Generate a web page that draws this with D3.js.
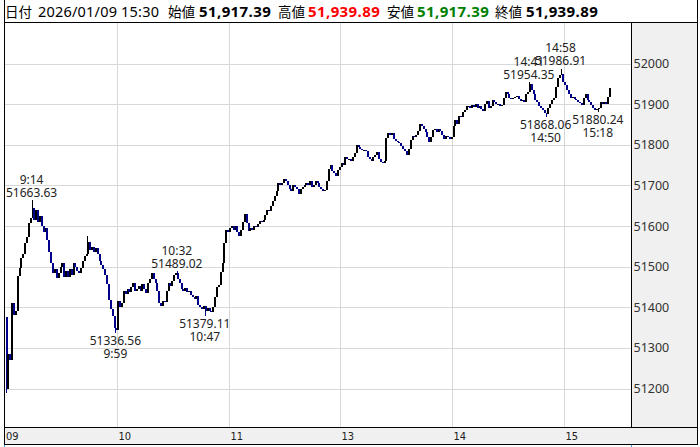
<!DOCTYPE html>
<html><head><meta charset="utf-8">
<script src="https://cdn.jsdelivr.net/npm/d3@7"></script>
<style>
body{margin:0;background:#fff;}
svg{display:block;}
text{font-family:"Noto Sans","Noto Sans CJK JP",sans-serif;}
</style>
</head><body>
<svg id="c" width="700" height="447"></svg>
<script>
// ---- data (1-minute candles, index 0 = 09:00, lunch break removed) ----
const firstOpen = 51375;
const closes = [
51200,51285,51270,51410,51380,51390,51476,51497,51522,51530,
51559,51574,51608,51620,51645,51615,51640,51610,51625,51600,
51585,51595,51566,51535,51510,51485,51495,51473,51485,51500,
51510,51475,51490,51475,51495,51480,51510,51500,51490,51485,
51497,51515,51525,51530,51560,51540,51548,51535,51545,51530,
51515,51505,51495,51480,51458,51418,51395,51378,51350,51345,
51415,51400,51410,51440,51432,51445,51438,51450,51460,51440,
51445,51452,51440,51458,51445,51435,51460,51470,51485,51470,
51460,51440,51410,51404,51415,51412,51439,51460,51452,51465,
51480,51484,51470,51460,51445,51440,51448,51437,51440,51430,
51425,51420,51428,51405,51400,51395,51402,51390,51398,51392,
51388,51400,51425,51450,51455,51488,51510,51558,51590,51585,
51595,51600,51590,51600,51585,51575,51590,51610,51630,51607,
51587,51595,51590,51600,51598,51605,51612,51610,51615,51628,
51640,51638,51650,51662,51675,51685,51705,51700,51705,51715,
51712,51700,51690,51685,51700,51697,51690,51678,51690,51697,
51700,51705,51700,51710,51695,51700,51712,51705,51695,51690,
51685,51689,51710,51740,51750,51735,51730,51722,51738,51745,
51755,51750,51771,51765,51765,51760,51770,51780,51800,51795,
51790,51787,51788,51785,51771,51765,51760,51770,51776,51783,
51765,51758,51755,51760,51816,51828,51825,51830,51815,51810,
51808,51805,51797,51790,51785,51775,51790,51812,51822,51818,
51825,51835,51852,51845,51840,51832,51820,51808,51820,51837,
51838,51832,51840,51835,51825,51815,51822,51818,51815,51820,
51845,51860,51852,51870,51868,51880,51885,51895,51895,51890,
51898,51892,51900,51890,51895,51888,51883,51900,51908,51890,
51895,51910,51905,51900,51900,51895,51898,51915,51930,51925,
51915,51912,51915,51918,51920,51912,51908,51910,51905,51925,
51930,51950,51935,51925,51910,51905,51895,51890,51885,51878,
51875,51890,51900,51910,51915,51942,51965,51972,51975,51955,
51947,51935,51925,51915,51918,51912,51910,51905,51902,51898,
51915,51925,51910,51905,51898,51890,51885,51888,51890,51905,
51900,51905,51900,51917.39,51939.89
];
// extreme wicks
const extremes = [
  {idx:0,   low:51190},
  {idx:14,  high:51663.63},
  {idx:44,  high:51575},
  {idx:59,  low:51336.56},
  {idx:92,  high:51489.02},
  {idx:107, low:51379.11},
  {idx:281, high:51954.35},
  {idx:290, low:51868.06},
  {idx:298, high:51986.91},
  {idx:318, low:51880.24}
];
const annotations = [
  {idx:14,  value:"51663.63", time:"9:14",  kind:"high", price:51663.63},
  {idx:59,  value:"51336.56", time:"9:59",  kind:"low",  price:51336.56},
  {idx:92,  value:"51489.02", time:"10:32", kind:"high", price:51489.02},
  {idx:107, value:"51379.11", time:"10:47", kind:"low",  price:51379.11},
  {idx:281, value:"51954.35", time:"14:41", kind:"high", price:51954.35},
  {idx:290, value:"51868.06", time:"14:50", kind:"low",  price:51868.06},
  {idx:298, value:"51986.91", time:"14:58", kind:"high", price:51986.91},
  {idx:318, value:"51880.24", time:"15:18", kind:"low",  price:51880.24}
];
const hourLabels = ["09","10","11","13","14","15"];
const hourIdx    = [0,60,120,180,240,300];
const priceTicks = [51200,51300,51400,51500,51600,51700,51800,51900,52000];
const headerItems = [
  {t:"日付", kind:"label", color:"#000"},
  {t:"2026/01/09 15:30", kind:"date", color:"#000"},
  {t:"始値", kind:"label", color:"#000"},
  {t:"51,917.39", kind:"value", color:"#000"},
  {t:"高値", kind:"label", color:"#000"},
  {t:"51,939.89", kind:"value", color:"#ff0000"},
  {t:"安値", kind:"label", color:"#000"},
  {t:"51,917.39", kind:"value", color:"#008000"},
  {t:"終値", kind:"label", color:"#000"},
  {t:"51,939.89", kind:"value", color:"#000"}
];

// ---- layout ----
const W = 700, H = 447;
const plot = {l:4.5, t:22.5, r:631.5, b:427.5};
const bandB = 444.5;

const svg = d3.select("#c");
const x = d3.scaleLinear().domain([0, 330]).range([5.5, 5.5 + 330*1.8625]);
const y = d3.scaleLinear().domain([51200, 52000]).range([388.5, 63.5]);

// backgrounds
svg.append("rect").attr("x",0).attr("y",0).attr("width",W).attr("height",H).attr("fill","#fff");
svg.append("rect").attr("x",plot.r).attr("y",plot.t).attr("width",W-plot.r-2).attr("height",bandB-plot.t).attr("fill","#f0f0f0");
svg.append("rect").attr("x",plot.l).attr("y",plot.b).attr("width",W-plot.l-2).attr("height",bandB-plot.b).attr("fill","#f0f0f0");

// grid
const grid = svg.append("g").attr("stroke","#d8d8d8").attr("stroke-width",1).attr("shape-rendering","crispEdges");
priceTicks.forEach(p=>{
  const yy = Math.round(y(p))+0.5;
  grid.append("line").attr("x1",plot.l).attr("x2",plot.r).attr("y1",yy).attr("y2",yy);
});
hourIdx.slice(1).forEach(i=>{
  const xx = Math.round(x(i)-0.5)+0.5;
  grid.append("line").attr("x1",xx).attr("x2",xx).attr("y1",plot.t).attr("y2",plot.b);
});

// candles
const candles = closes.map((c,i)=>{
  const o = i===0 ? firstOpen : closes[i-1];
  const e = extremes.find(d=>d.idx===i) || {};
  return {i, o, c, h: Math.max(o,c,e.high||-Infinity), l: Math.min(o,c,e.low||Infinity)};
});
const col = d=>d.c>=d.o?"#000":"#00008b";
const cg = svg.append("g").attr("shape-rendering","crispEdges");
cg.selectAll("line").data(candles).join("line")
  .attr("x1",d=>Math.round(x(d.i))+0.5).attr("x2",d=>Math.round(x(d.i))+0.5)
  .attr("y1",d=>y(d.h)).attr("y2",d=>y(d.l))
  .attr("stroke",col).attr("stroke-width",1);
cg.selectAll("rect").data(candles).join("rect")
  .attr("x",d=>Math.round(x(d.i))).attr("width",2)
  .attr("y",d=>y(Math.max(d.o,d.c)))
  .attr("height",d=>Math.max(1, Math.abs(y(d.o)-y(d.c))))
  .attr("fill",col);

// annotations
const ag = svg.append("g").attr("font-size",12).attr("fill","#222").attr("text-anchor","middle");
annotations.forEach(a=>{
  const cx = x(a.idx), py = y(a.price);
  if(a.kind==="high"){
    ag.append("text").attr("x",cx).attr("y",py-16.5).text(a.time);
    ag.append("text").attr("x",cx).attr("y",py-3.5).text(a.value);
  } else {
    ag.append("text").attr("x",cx).attr("y",py+12).text(a.value);
    ag.append("text").attr("x",cx).attr("y",py+25).text(a.time);
  }
});

// right price axis
const axR = d3.axisRight(y).tickValues(priceTicks).tickSize(0).tickPadding(2).tickFormat(d3.format("d"));
const gR = svg.append("g").attr("transform",`translate(${plot.r},0)`).call(axR);
gR.select(".domain").remove();
gR.selectAll("text").attr("font-size",12.5).attr("fill","#333")
  .style("font-family","'Noto Sans',sans-serif");

// bottom hour axis
const bx = svg.append("g");
hourIdx.forEach((idx,k)=>{
  const xx = k===0 ? plot.l+1.5 : Math.round(x(idx)-0.5)+1.5;
  bx.append("text").attr("x",xx).attr("y",440).attr("font-size",11)
    .attr("fill","#222").style("font-family","'DejaVu Sans Condensed','Liberation Sans Narrow',sans-serif")
    .style("font-stretch","condensed").text(hourLabels[k]);
});

// frame lines
const fr = svg.append("g").attr("stroke","#000").attr("stroke-width",1).attr("fill","none").attr("shape-rendering","crispEdges");
fr.append("line").attr("x1",plot.l).attr("x2",plot.l).attr("y1",0).attr("y2",bandB);
fr.append("line").attr("x1",697.5).attr("x2",697.5).attr("y1",0).attr("y2",bandB);
fr.append("line").attr("x1",plot.l).attr("x2",697.5).attr("y1",plot.t).attr("y2",plot.t);
fr.append("line").attr("x1",plot.l).attr("x2",697.5).attr("y1",plot.b).attr("y2",plot.b);
fr.append("line").attr("x1",plot.l).attr("x2",697.5).attr("y1",bandB).attr("y2",bandB);
fr.append("line").attr("x1",plot.r).attr("x2",plot.r).attr("y1",plot.t).attr("y2",plot.b);
svg.append("line").attr("x1",plot.l).attr("x2",plot.l).attr("y1",bandB).attr("y2",H)
  .attr("stroke","#3ea0e0").attr("shape-rendering","crispEdges");
svg.append("line").attr("x1",plot.r).attr("x2",plot.r).attr("y1",bandB).attr("y2",H)
  .attr("stroke","#3ea0e0").attr("shape-rendering","crispEdges");

// header
const hx = [5,38,168,199,278,308,387,417,495,526];
const hstyle = {
  label:{size:13.5, weight:"normal", ls:0},
  date: {size:14.5, weight:"normal", ls:0.2},
  value:{size:15,   weight:"bold",   ls:0.4}
};
const hg = svg.append("g");
headerItems.forEach((h,k)=>{
  const s = hstyle[h.kind];
  hg.append("text").attr("x",hx[k]).attr("y",17).attr("fill",h.color)
    .attr("font-size",s.size).attr("letter-spacing",s.ls)
    .attr("font-weight",s.weight).text(h.t);
});
</script>
</body></html>
